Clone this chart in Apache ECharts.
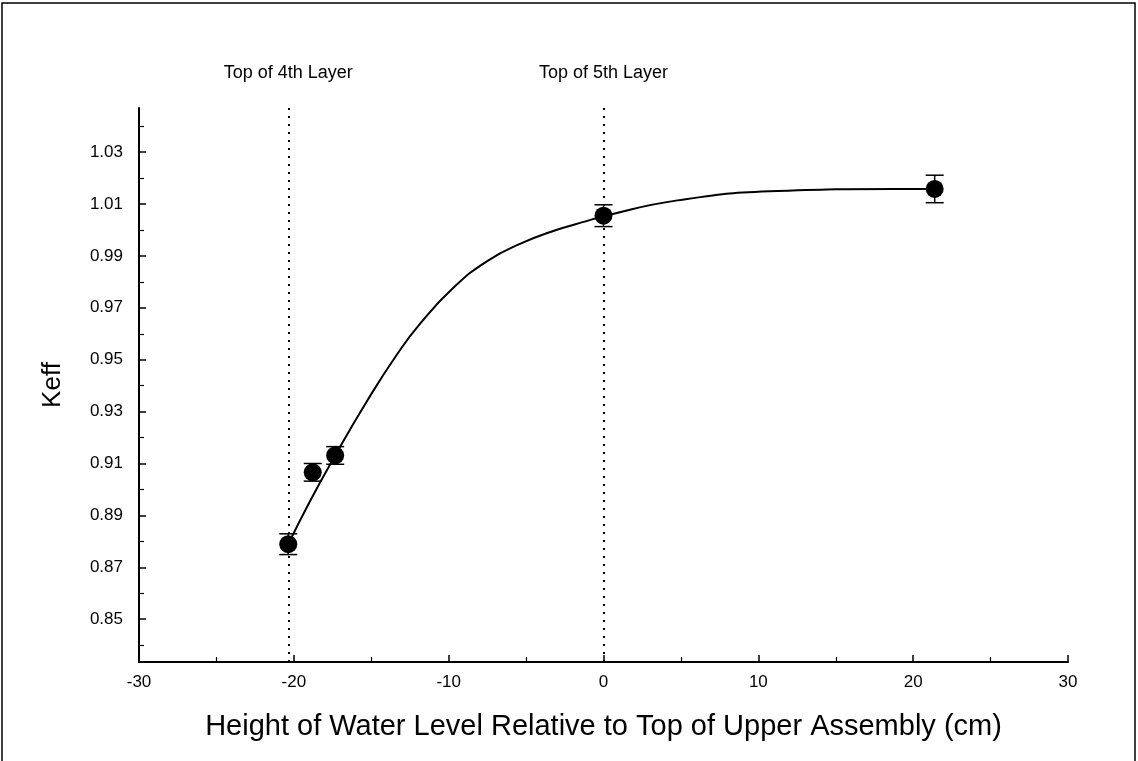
<!DOCTYPE html>
<html>
<head>
<meta charset="utf-8">
<script src="https://cdn.jsdelivr.net/npm/echarts@6/dist/echarts.min.js"></script>
<style>
  html, body { margin: 0; padding: 0; background: #fff; }
  #chart { width: 1138px; height: 761px; }
</style>
</head>
<body>
<div id="chart"></div>
<script>
// Measured keff values with one-sigma uncertainties
const waterHeights = [-20.36, -18.78, -17.33, 0.0, 21.39];
const keffValues   = [0.8789, 0.9066, 0.9131, 1.0055, 1.0158];
const keffErrors   = [0.0040, 0.0034, 0.0034, 0.0042, 0.0053];

// Fitted curve through the measurements
const fitHeights = [-20.36, -19.0, -17.33, -15.28, -13.34, -11.83, -9.68, -7.51, -5.36, -3.2, -1.04, 0.0, 4.78, 11.25, 18.8, 21.39];
const fitKeff    = [0.8789, 0.8950, 0.9131, 0.9340, 0.9520, 0.9640, 0.9778, 0.9880, 0.9947, 0.9997, 1.0035, 1.0053, 1.0114, 1.0150, 1.0158, 1.0158];

// Layer boundaries marked with dotted lines
const layerTops   = [-20.36, 0.0];
const layerLabels = ['Top of 4th Layer', 'Top of 5th Layer'];

// Axis ticks
const yMajorTicks = [0.85, 0.87, 0.89, 0.91, 0.93, 0.95, 0.97, 0.99, 1.01, 1.03];
const yMinorTicks = [0.84, 0.86, 0.88, 0.90, 0.92, 0.94, 0.96, 0.98, 1.00, 1.02, 1.04];

const font = '"Liberation Sans", Arial, Helvetica, sans-serif';
const chart = echarts.init(document.getElementById('chart'), null, { renderer: 'canvas' });

const measured = waterHeights.map((x, i) => [x, keffValues[i], keffErrors[i]]);
const fitted = fitHeights.map((x, i) => [x, fitKeff[i]]);

const yRange = { min: 0.8335, max: 1.047 };

chart.setOption({
  backgroundColor: '#fff',
  animation: false,
  graphic: [{
    type: 'rect',
    shape: { x: 2, y: 3, width: 1133, height: 800 },
    style: { fill: 'none', stroke: '#000', lineWidth: 1.5 },
    silent: true
  }],
  grid: { left: 139, right: 70, top: 108, bottom: 99 },
  xAxis: {
    type: 'value',
    min: -30, max: 30, interval: 10,
    name: 'Height of Water Level Relative to Top of Upper Assembly (cm)',
    nameLocation: 'middle',
    nameGap: 50,
    nameTextStyle: { fontFamily: font, fontSize: 29, color: '#000' },
    axisLine: { show: true, onZero: false, lineStyle: { color: '#000', width: 2 } },
    axisTick: { show: true, inside: true, length: 7, lineStyle: { color: '#000', width: 1.5 } },
    minorTick: { show: true, splitNumber: 2, length: 5, lineStyle: { color: '#000', width: 1.2 } },
    axisLabel: { fontFamily: font, fontSize: 17, color: '#000', margin: 12 },
    splitLine: { show: false },
    minorSplitLine: { show: false }
  },
  yAxis: [{
    type: 'value',
    min: yRange.min, max: yRange.max,
    name: 'Keff',
    nameLocation: 'middle',
    nameGap: 73,
    nameTextStyle: { fontFamily: font, fontSize: 26, color: '#000' },
    axisLine: { show: true, onZero: false, lineStyle: { color: '#000', width: 2 } },
    axisTick: { show: true, inside: true, length: 7, customValues: yMajorTicks, lineStyle: { color: '#000', width: 1.5 } },
    axisLabel: {
      fontFamily: font, fontSize: 17, color: '#000', margin: 16,
      customValues: yMajorTicks,
      formatter: v => v.toFixed(2)
    },
    splitLine: { show: false }
  }, {
    type: 'value',
    position: 'left',
    min: yRange.min, max: yRange.max,
    axisLine: { show: false, onZero: false },
    axisTick: { show: true, inside: true, length: 5, customValues: yMinorTicks, lineStyle: { color: '#000', width: 1.2 } },
    axisLabel: { show: false },
    splitLine: { show: false }
  }],
  series: [{
    name: 'fit',
    type: 'line',
    data: fitted,
    smooth: 0.5,
    showSymbol: false,
    lineStyle: { color: '#000', width: 2 },
    z: 2,
    markLine: {
      silent: true,
      symbol: 'none',
      lineStyle: { color: '#000', type: [2, 6], width: 2 },
      label: {
        show: true,
        position: 'end',
        distance: 26,
        fontFamily: font,
        fontSize: 18,
        color: '#000',
        formatter: p => layerLabels[p.dataIndex]
      },
      data: layerTops.map(x => ({ xAxis: x }))
    }
  }, {
    name: 'error',
    type: 'custom',
    data: measured,
    z: 3,
    renderItem: (params, api) => {
      const x = api.value(0), y = api.value(1), e = api.value(2);
      const top = api.coord([x, y + e]);
      const bot = api.coord([x, y - e]);
      const half = 9;
      const style = { stroke: '#000', lineWidth: 1.5 };
      return {
        type: 'group',
        children: [
          { type: 'line', shape: { x1: top[0], y1: top[1], x2: bot[0], y2: bot[1] }, style },
          { type: 'line', shape: { x1: top[0] - half, y1: top[1], x2: top[0] + half, y2: top[1] }, style },
          { type: 'line', shape: { x1: bot[0] - half, y1: bot[1], x2: bot[0] + half, y2: bot[1] }, style }
        ]
      };
    }
  }, {
    name: 'keff',
    type: 'scatter',
    data: measured.map(d => [d[0], d[1]]),
    symbol: 'circle',
    symbolSize: 18,
    itemStyle: { color: '#000', opacity: 1 },
    z: 4
  }]
});
</script>
</body>
</html>
